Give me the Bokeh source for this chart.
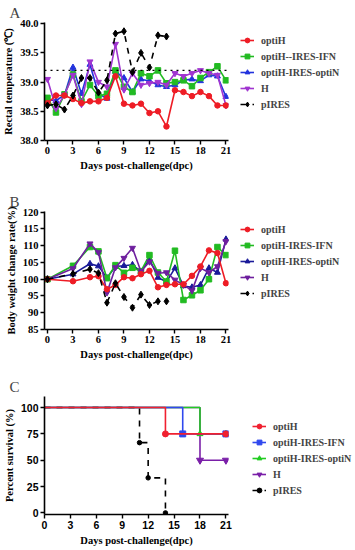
from bokeh.plotting import figure
from bokeh.layouts import column
from bokeh.models import Legend, LegendItem, FixedTicker, PrintfTickFormatter, Range1d, Span
from bokeh.embed import file_html
from bokeh.resources import INLINE

# ---------------- Panel A: rectal temperature ----------------
days_a = list(range(22))
days_a_pires = list(range(15))
temp_optiH = [38.64, 38.77, 38.77, 38.71, 38.64, 38.67, 38.67, 38.73, 39.10, 38.63, 38.60,
              38.63, 38.47, 38.50, 38.24, 38.86, 38.83, 38.76, 38.83, 38.76, 38.60, 38.60]
temp_ifn = [38.73, 38.48, 38.79, 39.13, 38.67, 38.95, 38.76, 38.80, 39.20, 38.92, 38.83,
            39.15, 39.10, 39.20, 38.98, 39.00, 39.03, 38.93, 39.07, 39.17, 39.27, 39.03]
temp_optiN = [38.70, 38.68, 38.78, 39.25, 38.80, 39.30, 38.80, 38.72, 39.18, 39.07, 38.83,
              39.05, 39.02, 38.95, 38.92, 38.95, 39.03, 39.05, 39.02, 39.12, 39.10, 38.75]
temp_H = [39.05, 38.55, 38.78, 39.12, 38.62, 39.35, 39.00, 38.92, 39.65, 38.87, 39.15,
          38.95, 38.98, 39.00, 38.95, 39.15, 39.10, 39.15, 39.20, 39.15, 39.12, 38.60]
temp_pires = [38.60, 38.62, 38.53, 38.77, 39.07, 39.07, 38.82, 39.03, 39.83, 39.87, 39.17,
              39.50, 39.25, 39.80, 39.78]
fever_line = 39.2
temp_ticks = [38.0, 38.5, 39.0, 39.5, 40.0]
labels_a = ["optiH", "optiH--IRES-IFN", "optiH-IRES-optiN", "H", "pIRES"]

# ---------------- Panel B: body weight ----------------
days_b = [0, 3, 5, 6, 7, 8, 9, 10, 11, 12, 13, 14, 15, 16, 17, 18, 19, 20, 21]
days_b_pires = [0, 3, 5, 6, 7, 8, 9, 10, 11, 12, 13, 14]
wt_optiH = [100, 99.4, 100.6, 100.9, 97.0, 98.3, 100.6, 100.3, 101.5, 102.5, 97.6, 98.3,
            98.5, 98.5, 101.0, 103.8, 108.6, 107.8, 98.8]
wt_ifn = [100, 104.0, 109.6, 108.3, 100.3, 104.2, 101.9, 103.4, 102.4, 107.2, 102.0, 99.3,
          108.5, 93.8, 95.2, 96.7, 100.0, 109.6, 107.2]
wt_optiN = [100, 101.5, 104.6, 103.9, 100.4, 103.8, 104.0, 104.3, 102.3, 106.0, 100.5, 99.2,
            103.3, 98.0, 97.6, 98.3, 103.3, 102.0, 111.9]
wt_H = [100, 103.2, 110.6, 108.0, 96.0, 103.5, 106.3, 109.3, 102.3, 105.2, 101.8, 102.0,
        99.8, 98.3, 96.6, 103.3, 102.0, 103.8, 111.3]
wt_pires = [100, 101.6, 103.0, 101.8, 93.0, 98.8, 94.7, 91.5, 95.4, 92.3, 93.4, 93.4]
wt_ticks = [85, 90, 95, 100, 105, 110, 115, 120]
labels_b = ["optiH", "optiH-IRES-IFN", "optiH-IRES-optiN", "H", "pIRES"]

# ---------------- Panel C: survival ----------------
sv_days_optiH = [0, 14, 21]
sv_optiH = [100, 75, 75]
sv_days_ifn = [0, 16, 21]
sv_ifn = [100, 75, 75]
sv_days_optiN = [0, 18, 21]
sv_optiN = [100, 75, 75]
sv_days_H = [0, 18, 21]
sv_H = [100, 50, 50]
sv_days_pires = [0, 11, 12, 14]
sv_pires = [100, 66.7, 33.3, 0]
sv_ticks = [0, 25, 50, 75, 100]
labels_c = ["optiH", "optiH-IRES-IFN", "optiH-IRES-optiN", "H", "pIRES"]

day_ticks = [0, 3, 6, 9, 12, 15, 18, 21]

SERIF = "Liberation Serif"
SANS = "Liberation Sans"
FRAME_W = 184
LEFT = 36


def base_fig(letter, frame_h, x_range, y_range, ylabel, tick_font, bottom):
    p = figure(frame_width=FRAME_W, frame_height=frame_h, output_backend="svg",
               toolbar_location=None, x_range=x_range, y_range=y_range,
               min_border_left=LEFT, min_border_right=0, min_border_top=0,
               min_border_bottom=bottom)
    p.outline_line_color = None
    p.grid.visible = False
    p.background_fill_color = "white"
    p.title.text = letter
    p.title.text_font = SERIF
    p.title.text_font_size = "15px"
    p.title.text_font_style = "normal"
    p.title.align = "left"
    p.title.offset = -LEFT + 1
    p.title.standoff = 4
    for ax in (p.xaxis[0], p.yaxis[0]):
        ax.axis_line_width = 1.6
        ax.axis_line_color = "black"
        ax.major_tick_line_width = 1.4
        ax.major_tick_out = 4
        ax.major_tick_in = 0
        ax.minor_tick_line_color = None
        ax.major_label_text_font = tick_font
        ax.major_label_text_font_style = "bold"
        ax.major_label_text_font_size = "10.5px"
        ax.major_label_text_color = "black"
        ax.axis_label_text_font = SERIF
        ax.axis_label_text_font_style = "bold"
        ax.axis_label_text_font_size = "10.5px"
        ax.axis_label_text_color = "black"
        ax.major_label_standoff = 2
        ax.axis_label_standoff = 3
    p.xaxis.ticker = FixedTicker(ticks=day_ticks)
    p.xaxis.axis_label = "Days post-challenge(dpc)"
    p.yaxis.axis_label = ylabel
    return p


def add_legend(p, items, margin=12):
    leg = Legend(items=items, location="top_left")
    leg.label_text_font = SERIF
    leg.label_text_font_style = "bold"
    leg.label_text_font_size = "10px"
    leg.glyph_width = 14
    leg.glyph_height = 12
    leg.label_height = 12
    leg.label_standoff = 7
    leg.spacing = 4
    leg.padding = 2
    leg.margin = margin
    leg.border_line_color = None
    leg.background_fill_alpha = 0
    p.add_layout(leg, "right")


def series(p, x, y, color, marker, size, dash="solid", width=1.6):
    r1 = p.line(x, y, line_color=color, line_width=width, line_dash=dash)
    r2 = p.scatter(x, y, marker=marker, size=size, fill_color=color, line_color=color)
    return [r1, r2]


# ----- A -----
pa = base_fig("A", 118, Range1d(-0.35, 21.3), Range1d(38.0, 40.02),
              "Rectal temperature (\u2103)", SERIF, 49)
pa.yaxis.ticker = FixedTicker(ticks=temp_ticks)
pa.yaxis.formatter = PrintfTickFormatter(format="%.1f")
pa.add_layout(Span(location=fever_line, dimension="width", line_color="black",
                   line_dash="dotted", line_width=1.1))
cA = ["#EE1C25", "#22BB22", "#2233DD", "#A035D0", "black"]
ra = [
    series(pa, days_a, temp_optiN, cA[2], "triangle", 6),
    series(pa, days_a, temp_ifn, cA[1], "square", 5.5),
    series(pa, days_a, temp_H, cA[3], "inverted_triangle", 6),
    series(pa, days_a, temp_optiH, cA[0], "circle", 5.5),
    series(pa, days_a_pires, temp_pires, cA[4], "diamond", 7, dash="dashed"),
]
order = [3, 1, 0, 2, 4]
add_legend(pa, [LegendItem(label=labels_a[i], renderers=ra[k]) for i, k in enumerate(order)])

# ----- B -----
pb = base_fig("B", 118, Range1d(-0.35, 21.3), Range1d(85, 120.2),
              "Body weight change rate(%)", SERIF, 45)
pb.yaxis.ticker = FixedTicker(ticks=wt_ticks)
cB = ["#EE1C25", "#22BB22", "#1A1A99", "#6E1F9E", "black"]
rb = [
    series(pb, days_b, wt_optiN, cB[2], "triangle", 6),
    series(pb, days_b, wt_ifn, cB[1], "square", 5.5),
    series(pb, days_b, wt_H, cB[3], "inverted_triangle", 6),
    series(pb, days_b, wt_optiH, cB[0], "circle", 5.5),
    series(pb, days_b_pires, wt_pires, cB[4], "diamond", 7, dash="dashed"),
]
add_legend(pb, [LegendItem(label=labels_b[i], renderers=rb[k]) for i, k in enumerate(order)])

# ----- C -----
pc = base_fig("C", 118, Range1d(0, 21.3), Range1d(-1.5, 110.5),
              "Percent survival (%)", SANS, 0)
pc.yaxis.ticker = FixedTicker(ticks=sv_ticks)
cC = ["#F02030", "#3048EE", "#22CC22", "#7A1FA8", "black"]


def surv(p, x, y, color, marker, size, dash="solid"):
    r1 = p.step(x, y, mode="after", line_color=color, line_width=1.6, line_dash=dash)
    r2 = p.scatter(x[1:], y[1:], marker=marker, size=size, fill_color=color, line_color=color)
    return [r1, r2]


rc_H = surv(pc, sv_days_H, sv_H, cC[3], "inverted_triangle", 7)
rc_optiN = surv(pc, sv_days_optiN, sv_optiN, cC[2], "triangle", 6)
rc_ifn = surv(pc, sv_days_ifn, sv_ifn, cC[1], "square", 6)
rc_pires = surv(pc, sv_days_pires, sv_pires, cC[4], "circle", 4.5, dash="dashed")
rc_optiH = surv(pc, sv_days_optiH, sv_optiH, cC[0], "circle", 6)
rc = [rc_optiH, rc_ifn, rc_optiN, rc_H, rc_pires]
add_legend(pc, [LegendItem(label=labels_c[i], renderers=rc[i]) for i in range(5)], margin=24)

layout = column(pa, pb, pc, spacing=0)
open("out.html", "w").write(file_html(layout, INLINE))
